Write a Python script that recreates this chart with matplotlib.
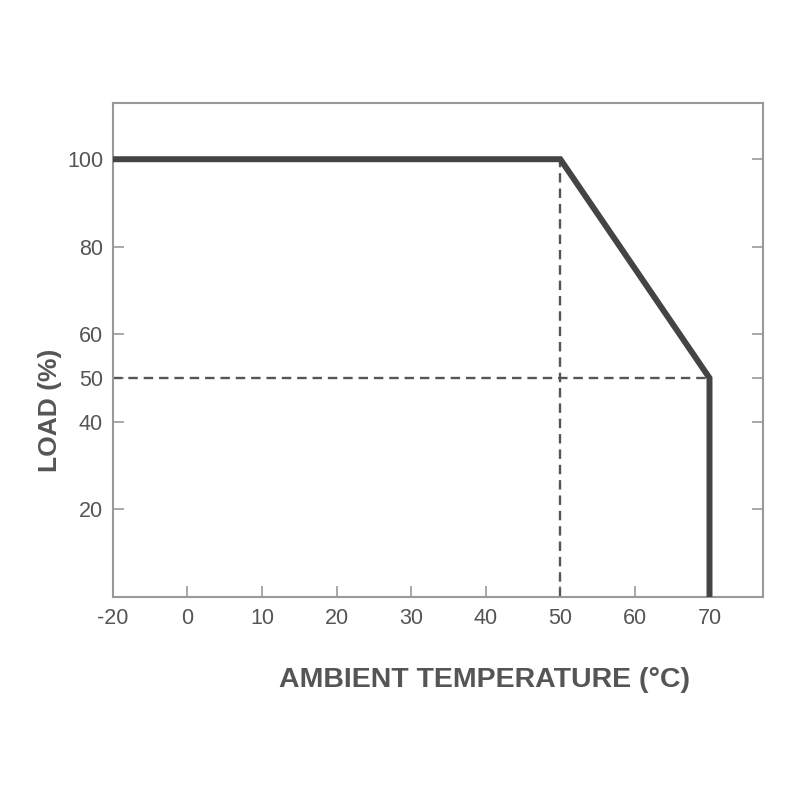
import numpy as np
import matplotlib
matplotlib.use("Agg")
import matplotlib.pyplot as plt

# derating curve
temp = [-20, 50, 70, 70]
load = [100, 100, 50, 0]

x_ticks = [-20, 0, 10, 20, 30, 40, 50, 60, 70]
y_ticks = [20, 40, 50, 60, 80, 100]

# reference guides
knee_temp = 50
half_load = 50
max_temp = 70


def fwd(x):
    x = np.asarray(x, dtype=float)
    return np.where(x < 0, x / 2, x)


def inv(x):
    x = np.asarray(x, dtype=float)
    return np.where(x < 0, x * 2, x)


plt.rcParams['font.family'] = ['Liberation Sans', 'DejaVu Sans']

fig = plt.figure(figsize=(8, 8), dpi=100)
ax = fig.add_axes([0.141, 0.254, 0.813, 0.617])

ax.set_xscale('function', functions=(fwd, inv))
ax.set_xlim(-20, 77.2)
ax.set_ylim(0, 112.8)

grey = '#555555'
ax.plot([knee_temp, knee_temp], [0, 100], ls=(0, (4, 2.5)), color=grey, lw=1.7)
ax.plot([-20, max_temp], [half_load, half_load], ls=(0, (4, 2.5)), color=grey, lw=1.7)
ax.plot(temp, load, color='#444444', lw=4.3, solid_joinstyle='miter', zorder=3)

for s in ax.spines.values():
    s.set_color('#999999')
    s.set_linewidth(1.5)

ax.set_xticks(x_ticks)
ax.set_xticklabels([str(t) for t in x_ticks])
ax.set_yticks(y_ticks)
ax.set_yticklabels([str(t) for t in y_ticks])
ax.tick_params(axis='both', direction='in', length=8, width=1.2, color='#999999',
               labelsize=15.5, labelcolor=grey)
ax.tick_params(axis='y', left=True, right=True, pad=7)
ax.tick_params(axis='x', bottom=True, top=False, pad=8)

fig.text(0.606, 0.15, 'AMBIENT TEMPERATURE (°C)', fontsize=20.5, fontweight='bold',
         color=grey, ha='center', va='center')
fig.text(0.0625, 0.4875, 'LOAD (%)', fontsize=19, fontweight='bold', color=grey,
         rotation=90, ha='center', va='center')

fig.savefig('out.png', dpi=100)
